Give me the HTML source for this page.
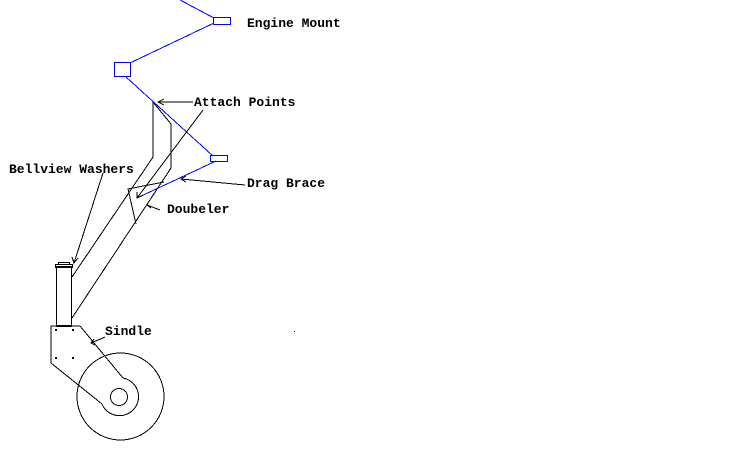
<!DOCTYPE html>
<html><head><style>
html,body{margin:0;padding:0;background:#fff;width:734px;height:451px;overflow:hidden}
svg text{font-family:"Liberation Mono",monospace;font-weight:bold;font-size:13px;fill:#000}
</style></head><body>
<svg width="734" height="451" viewBox="0 0 734 451" xmlns="http://www.w3.org/2000/svg" shape-rendering="crispEdges">
<g stroke="#0000ff" stroke-width="1" fill="none">
<line x1="180" y1="0" x2="214" y2="18"/>
<line x1="214" y1="23" x2="130" y2="63"/>
<rect x="213.5" y="17.5" width="17" height="7"/>
<rect x="114.5" y="62.5" width="16" height="14"/>
<line x1="126" y1="77" x2="213" y2="156"/>
<rect x="210.5" y="155.5" width="17" height="6"/>
<line x1="216" y1="161" x2="137" y2="198"/>
</g>
<g stroke="#000" stroke-width="1" fill="none">
<polyline points="153,102 153,157 72,277"/>
<polyline points="153,102 171,124 171,168 72,318"/>
<polyline points="164,182 128,189 136,224"/>
<!-- washers/tube -->
<rect x="56.5" y="266.5" width="15" height="59"/>
<rect x="55.5" y="264.5" width="17" height="3"/>
<rect x="58.5" y="262.5" width="11" height="2"/>
<!-- sindle -->
<polyline points="80,326 51,326 51,363 102,404"/>
<line x1="80" y1="326" x2="123" y2="378"/>
<line x1="56" y1="326" x2="72" y2="326" stroke-width="2"/>
<circle cx="120.5" cy="396.5" r="43.5"/>
<path d="M123,378 A19,19 0 1 1 102,404"/>
<circle cx="119" cy="397" r="8.5"/>
<!-- leaders -->
<line x1="193" y1="102" x2="158" y2="102"/>
<polyline points="164,99 158,102 164,105"/>
<line x1="203" y1="110" x2="137" y2="198"/>
<polyline points="137,192 137,198 143,195"/>
<line x1="103" y1="173" x2="74" y2="263"/>
<polyline points="72,257 74,263 78,258"/>
<line x1="245" y1="185" x2="181" y2="179"/>
<polyline points="186,176 181,179 186,182"/>
<line x1="160" y1="210" x2="147" y2="205"/>
<polyline points="149,201 147,205 151,208"/>
<line x1="105" y1="337" x2="91" y2="343"/>
<polyline points="94,339 91,343 95,345"/>
</g>
<g fill="#000">
<rect x="55" y="329" width="2" height="2"/><rect x="72" y="329" width="2" height="2"/>
<rect x="55" y="357" width="2" height="2"/><rect x="72" y="357" width="2" height="2"/>
<rect x="294" y="331" width="1" height="1"/>
</g>
<text x="247" y="27">Engine Mount</text>
<text x="194" y="106">Attach Points</text>
<text x="9" y="173">Bellview Washers</text>
<text x="247" y="187">Drag Brace</text>
<text x="167" y="213">Doubeler</text>
<text x="105" y="335">Sindle</text>
</svg>
</body></html>
